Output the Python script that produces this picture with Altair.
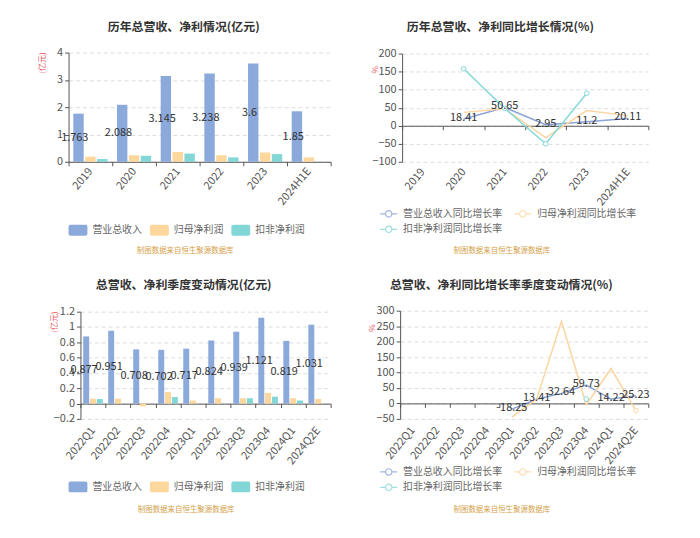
import altair as alt
import pandas as pd

FONT = "Noto Sans CJK SC"

# ---------------- data ----------------
years = ["2019", "2020", "2021", "2022", "2023", "2024H1E"]
quarters = ["2022Q1", "2022Q2", "2022Q3", "2022Q4", "2023Q1",
            "2023Q2", "2023Q3", "2023Q4", "2024Q1", "2024Q2E"]
amount_names = ["营业总收入", "归母净利润", "扣非净利润"]
growth_names = ["营业总收入同比增长率", "归母净利润同比增长率", "扣非净利润同比增长率"]

year_rev = [1.763, 2.088, 3.145, 3.238, 3.6, 1.85]
year_np = [0.19, 0.24, 0.36, 0.24, 0.34, 0.16]
year_kf = [0.10, 0.22, 0.30, 0.16, 0.28, None]

year_rev_g = [None, 18.41, 50.65, 2.95, 11.2, 20.11]
year_np_g = [None, 37, 47, -33, 42, 28]
year_kf_g = [None, 158, 48, -50, 90, None]

q_rev = [0.877, 0.951, 0.708, 0.702, 0.717, 0.824, 0.939, 1.121, 0.819, 1.031]
q_np = [0.064, 0.064, -0.035, 0.15, 0.04, 0.07, 0.07, 0.14, 0.07, 0.06]
q_kf = [0.06, None, None, 0.085, None, None, 0.07, 0.09, 0.04, None]

q_rev_g = [None, None, None, None, -18.25, 13.41, 32.64, 59.73, 14.22, 25.23]
q_np_g = [None, None, None, None, -44, 14, 266, -4, 113, -23]
q_kf_g = [None, None, None, None, None, None, None, 14, None, None]

titles = ["历年总营收、净利情况(亿元)", "历年总营收、净利同比增长情况(%)",
          "总营收、净利季度变动情况(亿元)", "总营收、净利同比增长率季度变动情况(%)"]
source_text = "制图数据来自恒生聚源数据库"

bar_colors = ["#8CA9DC", "#FDD79B", "#82D6D6"]
line_colors = ["#8BA3D8", "#FDD5A0", "#86D8D8"]

RECT = ("M-0.8,-0.58L0.8,-0.58A0.2,0.2 0 0 1 1,-0.38L1,0.38A0.2,0.2 0 0 1 0.8,0.58"
        "L-0.8,0.58A0.2,0.2 0 0 1 -1,0.38L-1,-0.38A0.2,0.2 0 0 1 -0.8,-0.58Z")
LINE_SYM = "M-1,0L-0.38,0M0.38,0L1,0M-0.38,0A0.38,0.38 0 1 0 0.38,0A0.38,0.38 0 1 0 -0.38,0"

W, H = 684, 522


def to_long(cats, names, arrays):
    rows = []
    for name, arr in zip(names, arrays):
        for c, v in zip(cats, arr):
            if v is not None:
                rows.append({"cat": c, "series": name, "value": v,
                             "mid": v / 2, "lbl": f"{v:g}"})
    return pd.DataFrame(rows)


def x_axis(offset, label_pad, src_x, src_y):
    return alt.Axis(orient="bottom", offset=offset, grid=False,
                    domain=True, domainColor="#555555", domainWidth=1,
                    ticks=True, tickSize=4, tickColor="#555555", tickBand="extent",
                    labelAngle=-50, labelFontSize=11, labelColor="#555555",
                    labelPadding=label_pad, labelOverlap=False, labelFont=FONT,
                    title=source_text, titleFontSize=7.5, titleFontWeight="normal",
                    titleColor="#D4A24C", titleFont=FONT, titleX=src_x, titleY=src_y,
                    titleAlign="center", titleBaseline="middle")


def y_axis(offset, values, title, tx, ty):
    return alt.Axis(orient="left", offset=offset, values=values, format="~r",
                    grid=True, gridColor="#DDDDDD", gridDash=[4, 3], gridWidth=1,
                    domain=True, domainColor="#555555", ticks=True, tickSize=4,
                    tickColor="#555555", labelFontSize=11, labelColor="#555555",
                    labelPadding=2, labelOverlap=False, labelFont=FONT,
                    title=title, titleFontSize=8, titleFontWeight="normal",
                    titleColor="#E8505B", titleFont=FONT, titleAngle=-90,
                    titleX=tx, titleY=ty, titleAlign="center", titleBaseline="middle")


def legend(x, y, cols, line):
    kw = dict(orient="none", legendX=x, legendY=y, direction="horizontal",
              columns=cols, title=None, labelFontSize=10, labelColor="#666666",
              labelFont=FONT, labelOffset=5, rowPadding=0, padding=0)
    if line:
        kw.update(symbolType=LINE_SYM, symbolSize=289, symbolFillColor="transparent",
                  symbolStrokeWidth=1.2, symbolOpacity=0.8, columnPadding=9)
    else:
        kw.update(symbolType=RECT, symbolSize=361, symbolStrokeWidth=0,
                  columnPadding=8)
    return alt.Legend(**kw)


def bar_panel(cats, arrays, xr, ydom, yr, yvals, xoff, lpad, sx, sy,
              yoff, ytx, yty, lx, ly):
    df = to_long(cats, amount_names, arrays)

    def xs():
        return alt.Scale(domain=cats, range=xr, paddingInner=0, paddingOuter=0)

    def ys():
        return alt.Scale(domain=ydom, range=yr, nice=False, zero=False)

    def os_():
        return alt.Scale(domain=amount_names, paddingInner=0.125, paddingOuter=0.4)

    bars = alt.Chart(df).mark_bar().encode(
        x=alt.X("cat:N", scale=xs(), axis=x_axis(xoff, lpad, sx, sy)),
        xOffset=alt.XOffset("series:N", scale=os_()),
        y=alt.Y("value:Q", scale=ys(), axis=y_axis(yoff, yvals, "(亿元)", ytx, yty)),
        color=alt.Color("series:N",
                        scale=alt.Scale(domain=amount_names, range=bar_colors),
                        legend=legend(lx, ly, 3, False)),
    )
    labels = alt.Chart(df).transform_filter(
        alt.datum.series == amount_names[0]).mark_text(
        fontSize=11, color="#333333", font=FONT).encode(
        x=alt.X("cat:N", scale=xs(), axis=None),
        xOffset=alt.XOffset("series:N", scale=os_()),
        y=alt.Y("mid:Q", scale=ys(), axis=None),
        text="lbl:N",
    )
    return [bars, labels]


def line_panel(cats, arrays, xr, ydom, yr, yvals, xoff, lpad, sx, sy,
               yoff, ytx, yty, lx, ly, pfilter):
    df = to_long(cats, growth_names, arrays)

    def xs():
        return alt.Scale(domain=cats, range=xr, paddingInner=0, paddingOuter=0)

    def ys():
        return alt.Scale(domain=ydom, range=yr, nice=False, zero=False)

    def cs():
        return alt.Scale(domain=growth_names, range=line_colors)

    lines = alt.Chart(df).mark_line(strokeWidth=1.5).encode(
        x=alt.X("cat:N", scale=xs(), axis=x_axis(xoff, lpad, sx, sy)),
        y=alt.Y("value:Q", scale=ys(), axis=y_axis(yoff, yvals, "%", ytx, yty)),
        color=alt.Color("series:N", scale=cs(), legend=legend(lx, ly, 2, True)),
    )
    pts = alt.Chart(df).transform_filter(pfilter).mark_point(
        filled=False, fill="white", size=22, strokeWidth=1, opacity=1).encode(
        x=alt.X("cat:N", scale=xs(), axis=None),
        y=alt.Y("value:Q", scale=ys(), axis=None),
        color=alt.Color("series:N", scale=cs(), legend=None),
    )
    labels = alt.Chart(df).transform_filter(
        alt.datum.series == growth_names[0]).mark_text(
        fontSize=11, color="#333333", font=FONT, dy=-1).encode(
        x=alt.X("cat:N", scale=xs(), axis=None),
        y=alt.Y("value:Q", scale=ys(), axis=None),
        text="lbl:N",
    )
    return [lines, pts, labels]


def title_mark(text, x, y):
    return alt.Chart(pd.DataFrame({"t": [text]})).mark_text(
        fontSize=12, fontWeight="bold", color="#333333", font=FONT,
        align="center", baseline="middle").encode(
        x=alt.value(x), y=alt.value(y), text="t:N")


tl = bar_panel(years, [year_rev, year_np, year_kf], [56, 320], [0, 4], [153, 43],
               [0, 1, 2, 3, 4], -369, 3.5, 173, 89, -56, -26, 53, 56, 212)
tr = line_panel(years, [year_rev_g, year_np_g, year_kf_g], [392, 640], [-100, 200],
                [153, 44], [-100, -50, 0, 50, 100, 150, 200], -405.3, 40.3, 492, 125.3,
                -392, -26.5, 60, 369, 195.5,
                alt.datum.series == growth_names[2])
bl = bar_panel(quarters, [q_rev, q_np, q_kf], [68, 320], [-0.2, 1.2], [412, 304],
               [-0.2, 0, 0.2, 0.4, 0.6, 0.8, 1, 1.2], -125.4, 21, 174, 106.4,
               -68, -26, 314, 56, 470.5)
br = line_panel(quarters, [q_rev_g, q_np_g, q_kf_g], [390, 640], [-50, 300],
                [412, 303], [-50, 0, 50, 100, 150, 200, 250, 300], -125.6, 21, 492, 106.6,
                -390, -28, 320, 369, 455.5,
                (alt.datum.series == growth_names[2]) |
                ((alt.datum.series == growth_names[1]) & (alt.datum.cat == "2024Q2E")))

chart = alt.layer(
    *tl, *tr, *bl, *br,
    title_mark(titles[0], 172, 17), title_mark(titles[1], 491, 17),
    title_mark(titles[2], 172, 277), title_mark(titles[3], 492, 277),
).resolve_scale(
    x="independent", y="independent", color="independent", xOffset="independent"
).resolve_axis(
    x="independent", y="independent"
).resolve_legend(
    color="independent"
).properties(
    width=W, height=H, padding=0
).configure(font=FONT, view=alt.ViewConfig(strokeWidth=0))

chart.save("out.html", embed_options={"renderer": "svg", "actions": False})
